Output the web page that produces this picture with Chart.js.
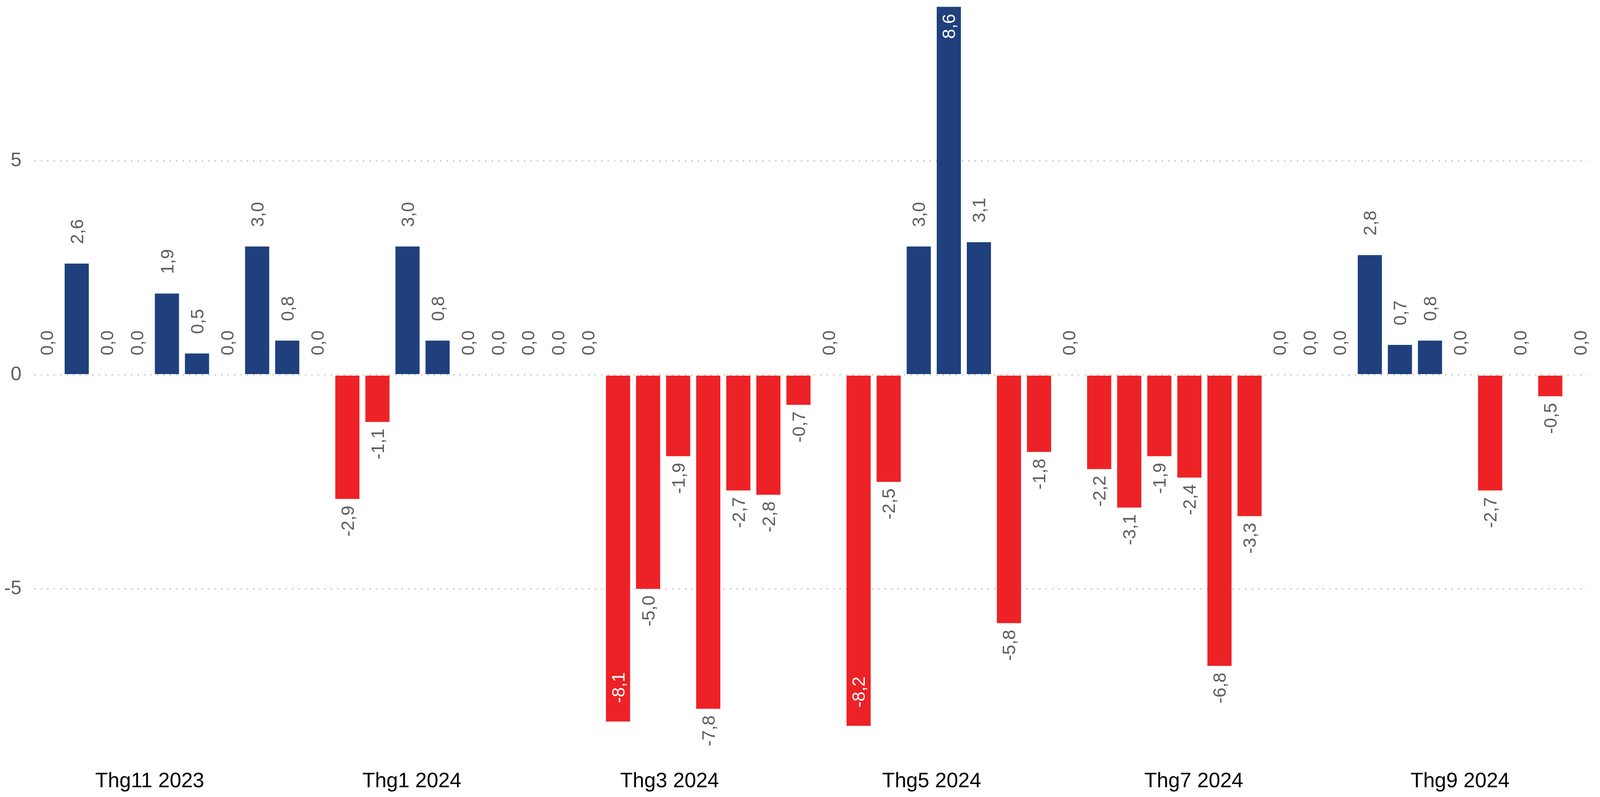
<!DOCTYPE html>
<html>
<head>
<meta charset="utf-8">
<script src="https://cdn.jsdelivr.net/npm/chart.js"></script>
<style>
  html, body { margin: 0; padding: 0; background: #fff; overflow: hidden; }
  #wrap { position: relative; width: 100vw; height: 100vh; }
</style>
</head>
<body>
<div id="wrap"><canvas id="weeklyChart"></canvas></div>
<script>
// weekly change, one bar per week
const weeks = [
    '2023-10-08', '2023-10-15', '2023-10-22', '2023-10-29', '2023-11-05', '2023-11-12', '2023-11-19', '2023-11-26',
    '2023-12-03', '2023-12-10', '2023-12-17', '2023-12-24', '2023-12-31', '2024-01-07', '2024-01-14', '2024-01-21',
    '2024-01-28', '2024-02-04', '2024-02-11', '2024-02-18', '2024-02-25', '2024-03-03', '2024-03-10', '2024-03-17',
    '2024-03-24', '2024-03-31', '2024-04-07', '2024-04-14', '2024-04-21', '2024-04-28', '2024-05-05', '2024-05-12',
    '2024-05-19', '2024-05-26', '2024-06-02', '2024-06-09', '2024-06-16', '2024-06-23', '2024-06-30', '2024-07-07',
    '2024-07-14', '2024-07-21', '2024-07-28', '2024-08-04', '2024-08-11', '2024-08-18', '2024-08-25', '2024-09-01',
    '2024-09-08', '2024-09-15', '2024-09-22', '2024-09-29'
];
const values = [
    0.0, 2.6, 0.0, 0.0, 1.9, 0.5, 0.0, 3.0, 0.8, 0.0, -2.9, -1.1, 3.0,
    0.8, 0.0, 0.0, 0.0, 0.0, 0.0, -8.1, -5.0, -1.9, -7.8, -2.7, -2.8, -0.7,
    0.0, -8.2, -2.5, 3.0, 8.6, 3.1, -5.8, -1.8, 0.0, -2.2, -3.1, -1.9, -2.4,
    -6.8, -3.3, 0.0, 0.0, 0.0, 2.8, 0.7, 0.8, 0.0, -2.7, 0.0, -0.5, 0.0
];
const monthDates = ['2023-11-01', '2024-01-01', '2024-03-01', '2024-05-01', '2024-07-01', '2024-09-01'];
const monthLabels = ['Thg11 2023', 'Thg1 2024', 'Thg3 2024', 'Thg5 2024', 'Thg7 2024', 'Thg9 2024'];
const yTicks = [-5, 0, 5];

const BLUE = '#1f407d';
const RED = '#ed2226';
const FONT = '"Liberation Sans", Arial, Helvetica, sans-serif';

const WEEK = 7 * 864e5;
const t0 = Date.parse(weeks[0]);
const toWeek = d => (Date.parse(d) - t0) / WEEK;

const points = weeks.map((d, i) => ({ x: toWeek(d), y: values[i] }));
const monthPos = monthDates.map(toWeek);

// horizontal spacing follows the window width (reference was 4968 wide)
const sx = window.innerWidth / 4968;

// value labels, turned to read upwards
const valueLabels = {
    id: 'valueLabels',
    afterDatasetsDraw(chart) {
        const ctx = chart.ctx;
        const area = chart.chartArea;
        const meta = chart.getDatasetMeta(0);
        const size = 46;
        ctx.save();
        ctx.font = size + 'px ' + FONT;
        ctx.textBaseline = 'alphabetic';
        meta.data.forEach((bar, i) => {
            const v = values[i];
            const text = v.toFixed(1).replace('.', ',');
            const w = ctx.measureText(text).width;
            const top = Math.min(bar.y, bar.base);
            const bottom = Math.max(bar.y, bar.base);
            let y, align, color = '#5f5f5f';
            if (v >= 0) {
                if (top - 50 - w >= 0) { y = top - 50; align = 'left'; }
                else { y = top + 18; align = 'right'; color = '#ffffff'; }
            } else {
                if (bottom + 17 + w <= area.bottom) { y = bottom + 17; align = 'right'; }
                else { y = bottom - 47; align = 'left'; color = '#ffffff'; }
            }
            ctx.save();
            ctx.translate(bar.x, y);
            ctx.rotate(-Math.PI / 2);
            ctx.textAlign = align;
            ctx.fillStyle = color;
            ctx.fillText(text, 0, size * 0.358);
            ctx.restore();
        });
        ctx.restore();
    }
};

new Chart(document.getElementById('weeklyChart'), {
    type: 'bar',
    data: {
        datasets: [{
            data: points,
            backgroundColor: ctx => (ctx.raw && ctx.raw.y < 0) ? RED : BLUE,
            borderWidth: 0,
            categoryPercentage: 1,
            barPercentage: 0.803
        }]
    },
    options: {
        responsive: true,
        maintainAspectRatio: false,
        animation: false,
        layout: { padding: { top: 10, right: Math.round(40 * sx), left: 0, bottom: 0 } },
        plugins: {
            legend: { display: false },
            tooltip: { enabled: false }
        },
        scales: {
            x: {
                type: 'linear',
                offset: false,
                min: -0.408,
                max: 51.225,
                grid: { display: false, drawTicks: false, offset: false },
                border: { display: false },
                afterFit: scale => {
                    scale.height = 120;
                    scale.paddingLeft = 0;
                    scale.paddingRight = 0;
                },
                afterBuildTicks: scale => { scale.ticks = monthPos.map(v => ({ value: v })); },
                ticks: {
                    autoSkip: false,
                    maxRotation: 0,
                    padding: 49,
                    color: '#000000',
                    font: { family: FONT, size: 53 },
                    callback: (value, index) => monthLabels[index]
                }
            },
            y: {
                min: -8.768,
                max: 8.668,
                grid: {
                    color: '#c8c8c8',
                    lineWidth: 4,
                    drawTicks: false
                },
                border: { display: false, dash: [4 * sx, 16 * sx] },
                afterFit: scale => {
                    scale.width = Math.round(107 * sx);
                    scale.paddingTop = 0;
                    scale.paddingBottom = 0;
                },
                afterBuildTicks: scale => { scale.ticks = yTicks.map(v => ({ value: v })); },
                ticks: {
                    padding: Math.round(40 * sx),
                    color: '#5f5f5f',
                    font: { family: FONT, size: 50 }
                }
            }
        }
    },
    plugins: [valueLabels]
});
</script>
</body>
</html>
